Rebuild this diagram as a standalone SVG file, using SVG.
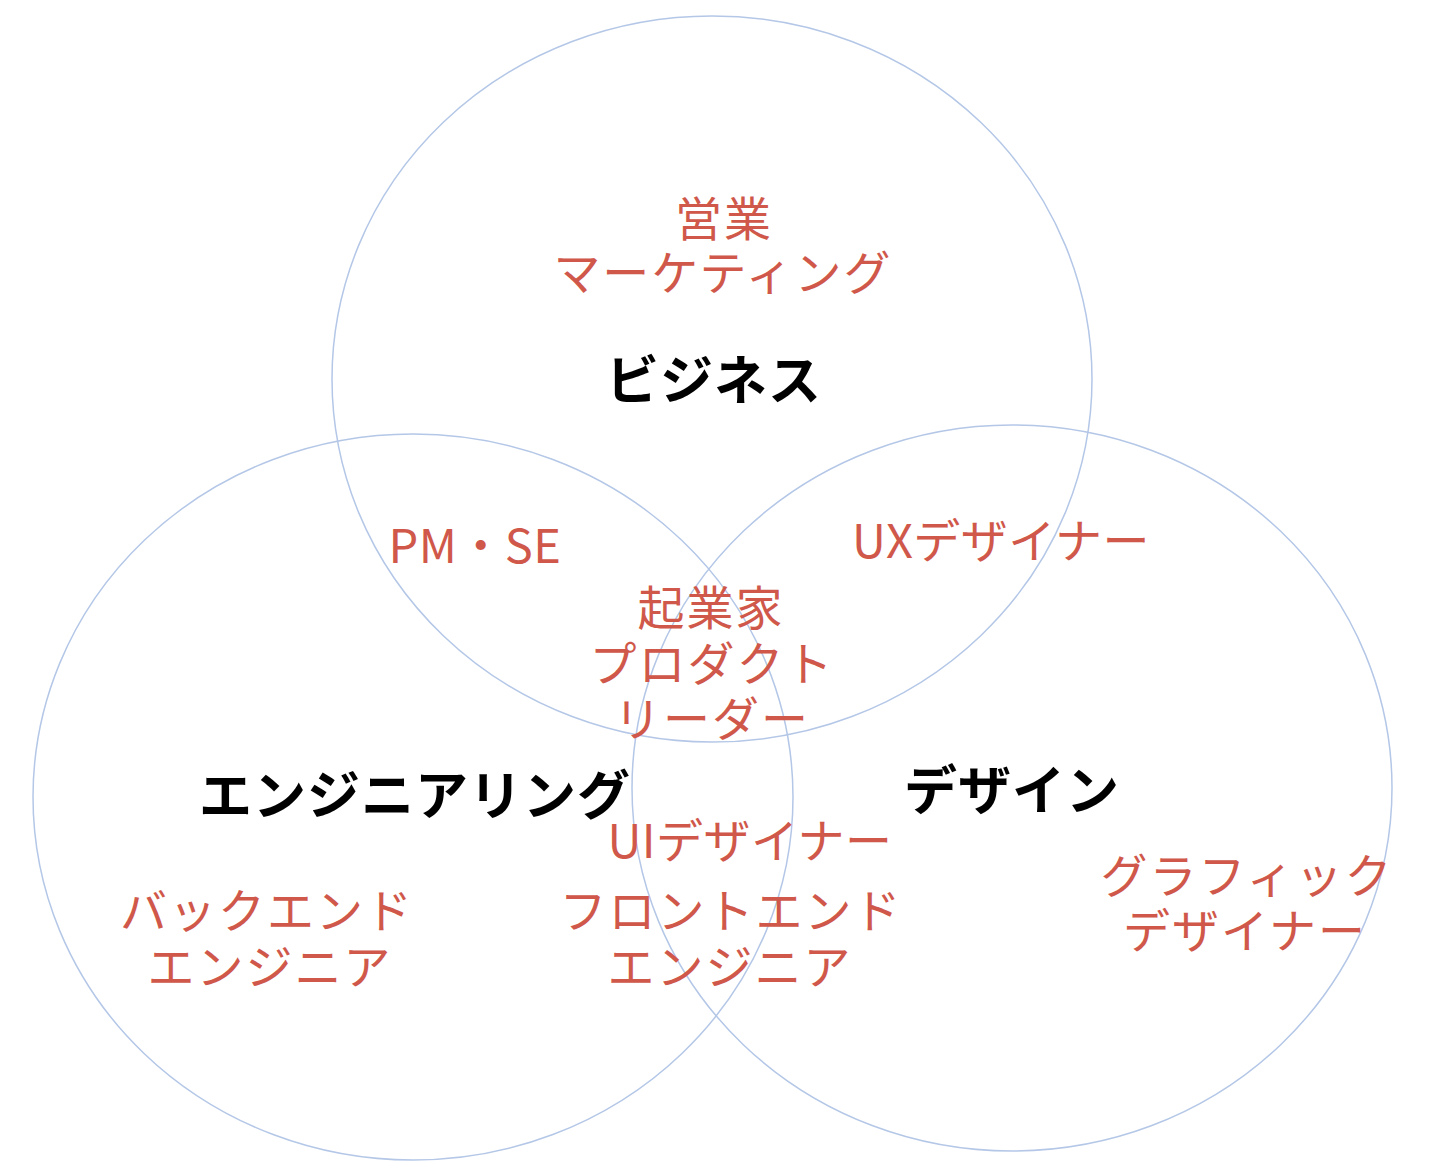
<svg xmlns="http://www.w3.org/2000/svg" width="1444" height="1176" viewBox="0 0 1444 1176">
<style>
.c{fill:none;stroke:#b4c7e7;stroke-width:1.5}
.r{font-family:"Noto Sans CJK JP","Noto Sans",sans-serif;font-size:47px;letter-spacing:2px;fill:#d0584a;text-anchor:middle;dominant-baseline:central}
.l{letter-spacing:0.5px}
.b{font-family:"Noto Sans CJK JP","Noto Sans",sans-serif;font-size:53px;letter-spacing:1px;font-weight:bold;fill:#000;text-anchor:middle;dominant-baseline:central}
</style>
<rect width="1444" height="1176" fill="#fff"/>
<g id="business">
<ellipse class="c" cx="712" cy="379" rx="380" ry="363"/>
<text class="r" x="724" y="215">営業</text>
<text class="r" x="723" y="269">マーケティング</text>
<text class="b" x="714" y="377">ビジネス</text>
</g>
<g id="engineering">
<ellipse class="c" cx="413" cy="797" rx="380" ry="363"/>
<text class="b" x="415" y="792">エンジニアリング</text>
<text class="r" x="267" y="907">バックエンド</text>
<text class="r" x="270" y="963">エンジニア</text>
</g>
<g id="design">
<ellipse class="c" cx="1012" cy="788" rx="380" ry="363"/>
<text class="b" x="1012" y="787">デザイン</text>
<text class="r" x="1247" y="872">グラフィック</text>
<text class="r" x="1245" y="927">デザイナー</text>
</g>
<g id="overlaps">
<text class="r l" x="475" y="542">PM・SE</text>
<text class="r l" x="1001" y="537">UXデザイナー</text>
<text class="r" x="711" y="604">起業家</text>
<text class="r" x="712" y="660">プロダクト</text>
<text class="r" x="712" y="715">リーダー</text>
<text class="r l" x="750" y="837">UIデザイナー</text>
<text class="r" x="731" y="907">フロントエンド</text>
<text class="r" x="730" y="963">エンジニア</text>
</g>
<g id="connectors"></g>
</svg>
